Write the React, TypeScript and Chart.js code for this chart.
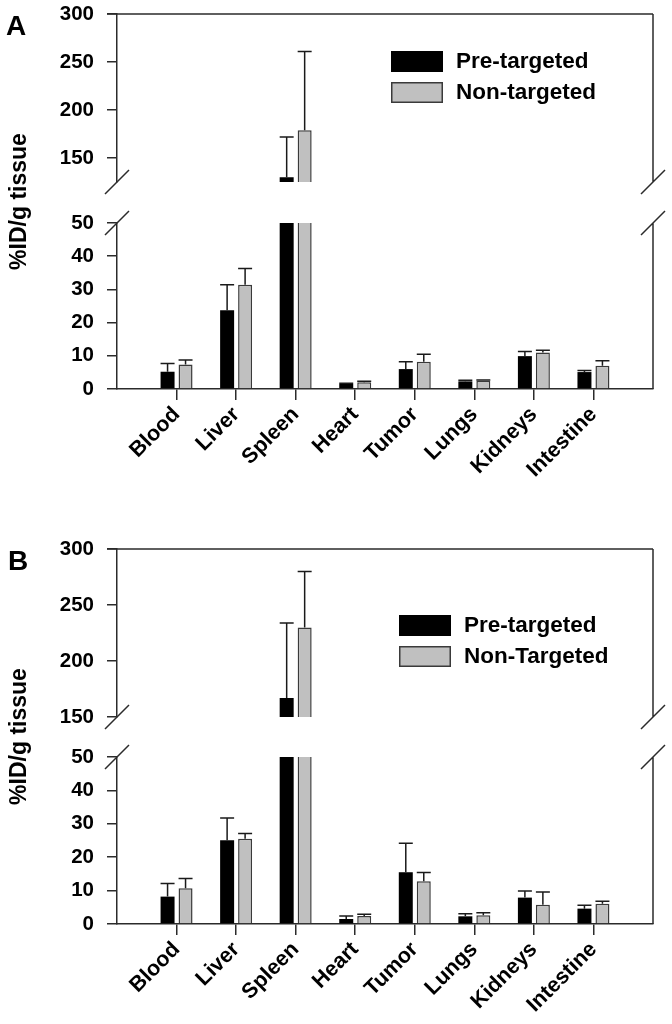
import React, { useEffect, useRef } from 'react';
import { Chart, registerables } from 'chart.js';

Chart.register(...registerables);

// ---------- data ----------
const categories = ['Blood', 'Liver', 'Spleen', 'Heart', 'Tumor', 'Lungs', 'Kidneys', 'Intestine'];

const preA = [5.2, 23.7, 130, 1.5, 6.0, 2.3, 9.9, 5.1];
const preErrA = [2.5, 7.7, 42, 0.2, 2.2, 0.3, 1.4, 0.5];
const nonA = [7.4, 31.4, 179, 2.0, 8.2, 2.5, 11.0, 7.0];
const nonErrA = [1.3, 4.9, 82, 0.3, 2.3, 0.2, 0.7, 1.5];

const preB = [8.2, 25.1, 167, 1.5, 15.5, 2.3, 7.9, 4.6];
const preErrB = [3.9, 6.6, 67, 0.9, 8.7, 0.8, 2.0, 1.0];
const nonB = [10.7, 25.5, 230, 2.4, 12.8, 2.6, 5.8, 6.1];
const nonErrB = [2.9, 1.6, 50, 0.5, 2.6, 0.8, 3.8, 0.7];

const legendA = ['Pre-targeted', 'Non-targeted'];
const legendB = ['Pre-targeted', 'Non-Targeted'];

const upperTicks = [150, 200, 250, 300];
const lowerTicks = [0, 10, 20, 30, 40, 50];
const upperMinA = 125;
const upperMinB = 150;
const upperMax = 300;
const lowerMax = 50;

const yTitle = '%ID/g tissue';

// ---------- styles ----------
const FONT = "'Liberation Sans', Arial, Helvetica, sans-serif";
const AXIS = '#2b2b2b';
const PRE_COLOR = '#000000';
const NON_COLOR = '#c0c0c0';
const NON_BORDER = '#3a3a3a';
const W = 672;
const X_H = 100;

type Geom = {
  height: number; top: number; upperBottom: number; lowerTop: number; lowerBottom: number;
  left: number; right: number; legendX: number; legendY: number; letterX: number; letterY: number;
};

const geomA: Geom = { height: 520, top: 14, upperBottom: 182, lowerTop: 223, lowerBottom: 389, left: 117, right: 653, legendX: 391, legendY: 51, letterX: 6, letterY: 35 };
const geomB: Geom = { height: 504, top: 29, upperBottom: 197, lowerTop: 237, lowerBottom: 404, left: 117, right: 653, legendX: 399, legendY: 95, letterX: 8, letterY: 50 };

// ---------- plugins ----------
const errorBarPlugin = {
  id: 'errorBars',
  afterDatasetsDraw(chart: any) {
    const { ctx, chartArea: a } = chart;
    const y = chart.scales.y;
    ctx.save();
    ctx.beginPath();
    ctx.rect(a.left, a.top - 1, a.right - a.left, a.bottom - a.top + 1);
    ctx.clip();
    chart.data.datasets.forEach((ds: any, di: number) => {
      const meta = chart.getDatasetMeta(di);
      meta.data.forEach((bar: any, i: number) => {
        const v = ds.data[i];
        const e = ds.errors[i];
        if (v == null || !e) return;
        const yTop = y.getPixelForValue(v + e);
        const half = bar.width / 2;
        ctx.strokeStyle = '#1a1a1a';
        ctx.lineWidth = 1.5;
        ctx.beginPath();
        ctx.moveTo(bar.x, bar.y);
        ctx.lineTo(bar.x, yTop);
        ctx.moveTo(bar.x - half, yTop);
        ctx.lineTo(bar.x + half, yTop);
        ctx.stroke();
      });
    });
    ctx.restore();
  },
};

const framePlugin = {
  id: 'frame',
  afterDraw(chart: any, _args: any, opts: any) {
    const { ctx, chartArea: a } = chart;
    ctx.save();
    ctx.strokeStyle = AXIS;
    ctx.lineWidth = 1.5;
    ctx.beginPath();
    ctx.moveTo(a.right, a.top);
    ctx.lineTo(a.right, a.bottom);
    if (opts.upper) {
      ctx.moveTo(a.left - 10, a.top);
      ctx.lineTo(a.right, a.top);
    }
    const by = opts.upper ? a.bottom : a.top;
    [a.left, a.right].forEach((x: number) => {
      ctx.moveTo(x - 12, by + 12);
      ctx.lineTo(x + 12, by - 12);
    });
    ctx.stroke();
    ctx.restore();
  },
};

const legendPlugin = {
  id: 'boxLegend',
  afterDraw(chart: any, _args: any, opts: any) {
    if (!opts || !opts.show) return;
    const { ctx } = chart;
    ctx.save();
    chart.data.datasets.forEach((ds: any, i: number) => {
      const x = opts.x;
      const y = opts.y + i * 31;
      ctx.fillStyle = ds.backgroundColor;
      ctx.fillRect(x, y, 52, 21);
      ctx.strokeStyle = ds.borderColor;
      ctx.lineWidth = 1.5;
      ctx.strokeRect(x + 0.75, y + 0.75, 50.5, 19.5);
      ctx.fillStyle = '#000';
      ctx.font = `bold 22.5px ${FONT}`;
      ctx.textBaseline = 'middle';
      ctx.textAlign = 'left';
      ctx.fillText(ds.label, x + 65, y + 11);
    });
    ctx.restore();
  },
};

const decoPlugin = {
  id: 'deco',
  afterDraw(chart: any, _args: any, opts: any) {
    if (!opts || !opts.show) return;
    const { ctx } = chart;
    ctx.save();
    ctx.fillStyle = '#000';
    ctx.font = `bold 28px ${FONT}`;
    ctx.textAlign = 'left';
    ctx.textBaseline = 'alphabetic';
    ctx.fillText(opts.letter, opts.letterX, opts.letterY);
    ctx.translate(opts.titleX, opts.titleY);
    ctx.rotate(-Math.PI / 2);
    ctx.font = `bold 23px ${FONT}`;
    ctx.textAlign = 'center';
    ctx.textBaseline = 'middle';
    ctx.fillText(yTitle, 0, 0);
    ctx.restore();
  },
};

// ---------- chart ----------
function buildConfig(isUpper: boolean, g: Geom, upperMin: number, pre: number[], preErr: number[], non: number[], nonErr: number[], legend: string[], letter: string) {
  const keep = (v: number) => (isUpper ? (v > lowerMax ? v : null) : v);
  const pad = (arr: (number | null)[]) => [null, ...arr, null];
  const common = { categoryPercentage: 0.604, barPercentage: 0.778, clip: 0, borderSkipped: 'start' };
  const tickVals = isUpper ? upperTicks : lowerTicks;
  return {
    type: 'bar',
    data: {
      labels: ['', ...categories, ''],
      datasets: [
        { ...common, label: legend[0], data: pad(pre.map(keep)), errors: pad(preErr), backgroundColor: PRE_COLOR, borderColor: PRE_COLOR, borderWidth: 0 },
        { ...common, label: legend[1], data: pad(non.map(keep)), errors: pad(nonErr), backgroundColor: NON_COLOR, borderColor: NON_BORDER, borderWidth: 1.5 },
      ],
    },
    options: {
      responsive: false,
      animation: false,
      events: [],
      layout: {
        autoPadding: false,
        padding: {
          left: 0,
          right: W - g.right,
          top: isUpper ? g.top : g.lowerTop,
          bottom: isUpper ? g.height - g.upperBottom : g.height - g.lowerBottom - X_H,
        },
      },
      plugins: {
        legend: { display: false },
        tooltip: { enabled: false },
        frame: { upper: isUpper },
        boxLegend: { show: isUpper, x: g.legendX, y: g.legendY },
        deco: {
          show: !isUpper, letter, letterX: g.letterX, letterY: g.letterY,
          titleX: 20, titleY: (g.top + g.lowerBottom) / 2,
        },
      },
      scales: {
        x: {
          type: 'category',
          offset: false,
          display: !isUpper,
          grid: {
            offset: false, drawOnChartArea: false, drawTicks: true, tickLength: 11, lineWidth: 1.5,
            color: AXIS,
            tickColor: (c: any) => (c.tick && c.tick.label ? AXIS : 'rgba(0,0,0,0)'),
          },
          border: { display: true, color: AXIS, width: 1.5 },
          ticks: {
            autoSkip: false, maxRotation: 45, minRotation: 45, padding: 2, color: '#000',
            font: { family: FONT, size: 21.5, weight: 'bold' },
          },
          afterFit: (s: any) => { s.height = isUpper ? 0 : X_H; s.paddingLeft = 0; s.paddingRight = 0; },
        },
        y: {
          min: isUpper ? upperMin : 0,
          max: isUpper ? upperMax : lowerMax,
          grid: { drawOnChartArea: false, drawTicks: true, tickLength: 10, lineWidth: 1.5, color: AXIS },
          border: { display: true, color: AXIS, width: 1.5 },
          ticks: { autoSkip: false, padding: 13, color: '#000', font: { family: FONT, size: 20.5, weight: 'bold' } },
          afterBuildTicks: (s: any) => { s.ticks = tickVals.map((v) => ({ value: v })); },
          afterFit: (s: any) => { s.width = g.left; s.paddingTop = 0; s.paddingBottom = 0; },
        },
      },
    },
    plugins: [errorBarPlugin, framePlugin, legendPlugin, decoPlugin],
  };
}

type PanelProps = {
  letter: string; g: Geom; offsetY: number; upperMin: number;
  pre: number[]; preErr: number[]; non: number[]; nonErr: number[]; legend: string[];
};

function Panel({ letter, g, offsetY, upperMin, pre, preErr, non, nonErr, legend }: PanelProps) {
  const upRef = useRef<HTMLCanvasElement>(null);
  const lowRef = useRef<HTMLCanvasElement>(null);
  useEffect(() => {
    const up = new Chart(upRef.current as HTMLCanvasElement, buildConfig(true, g, upperMin, pre, preErr, non, nonErr, legend, letter) as any);
    const low = new Chart(lowRef.current as HTMLCanvasElement, buildConfig(false, g, upperMin, pre, preErr, non, nonErr, legend, letter) as any);
    return () => { up.destroy(); low.destroy(); };
  }, []);
  const style: React.CSSProperties = { position: 'absolute', left: 0, top: offsetY, width: W, height: g.height };
  return (
    <>
      <canvas ref={lowRef} width={W} height={g.height} style={style} />
      <canvas ref={upRef} width={W} height={g.height} style={style} />
    </>
  );
}

export default function App() {
  return (
    <div style={{ position: 'absolute', left: 0, top: 0, width: 672, height: 1024, background: '#fff', overflow: 'hidden' }}>
      <Panel letter="A" g={geomA} offsetY={0} upperMin={upperMinA} pre={preA} preErr={preErrA} non={nonA} nonErr={nonErrA} legend={legendA} />
      <Panel letter="B" g={geomB} offsetY={520} upperMin={upperMinB} pre={preB} preErr={preErrB} non={nonB} nonErr={nonErrB} legend={legendB} />
    </div>
  );
}
